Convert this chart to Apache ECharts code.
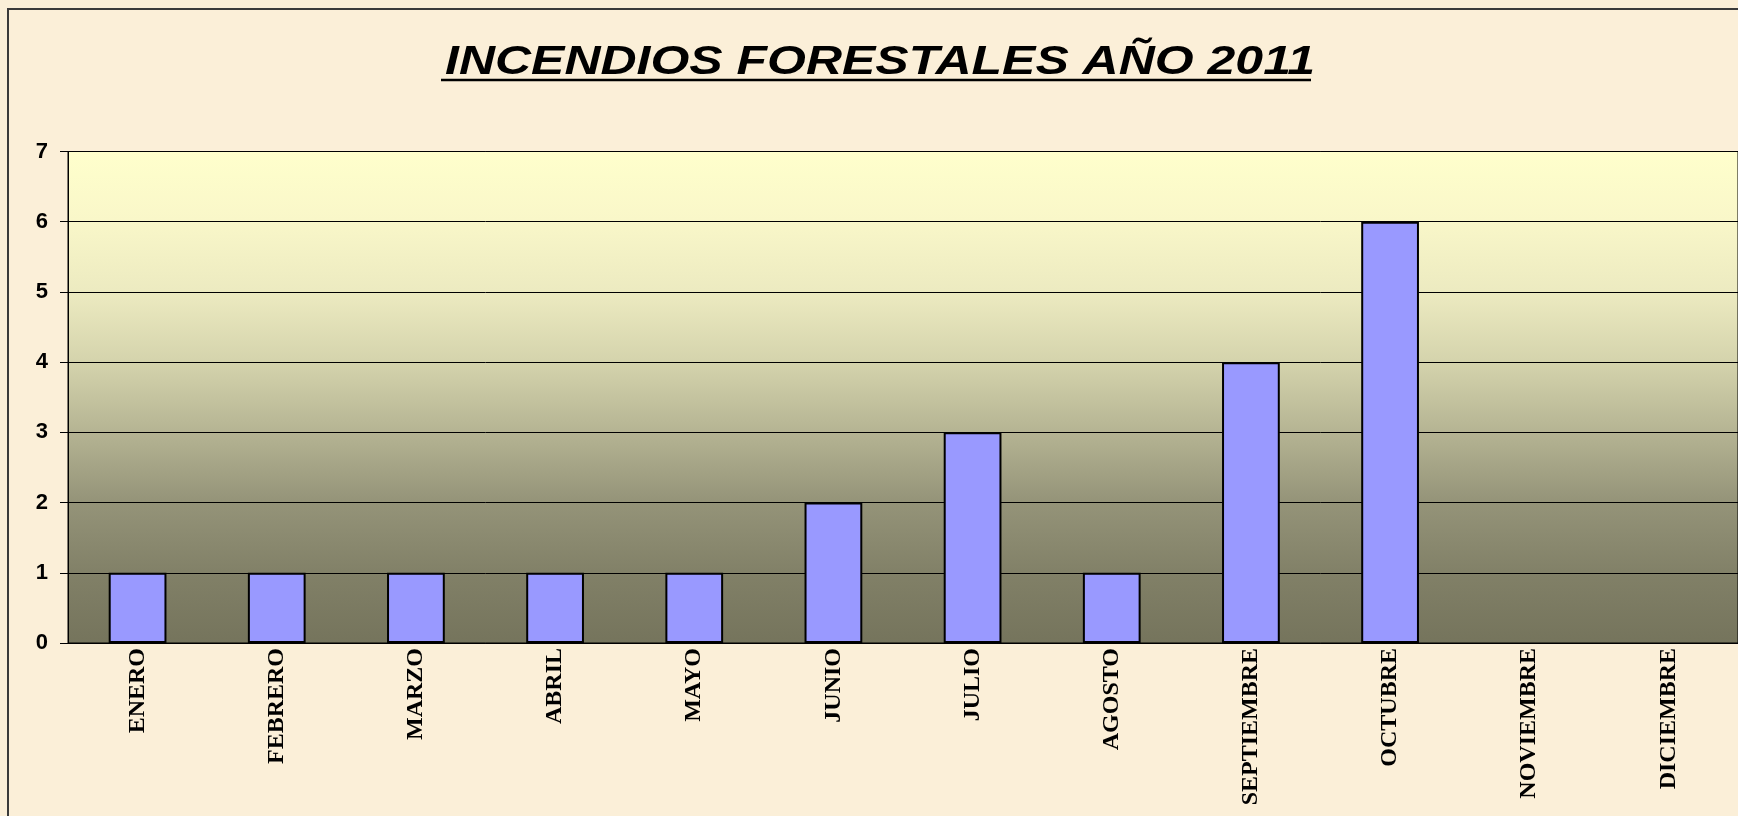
<!DOCTYPE html>
<html>
<head>
<meta charset="utf-8">
<title>Incendios forestales 2011</title>
<script src="https://cdn.jsdelivr.net/npm/echarts@6/dist/echarts.min.js"></script>
<style>
  html, body { margin: 0; padding: 0; background: #fbefd8; }
  #main { width: 1738px; height: 816px; }
</style>
</head>
<body>
<div id="main"></div>
<script>
// datos del gráfico
var titulo = 'INCENDIOS FORESTALES AÑO 2011';
var meses = ['ENERO', 'FEBRERO', 'MARZO', 'ABRIL', 'MAYO', 'JUNIO', 'JULIO',
  'AGOSTO', 'SEPTIEMBRE', 'OCTUBRE', 'NOVIEMBRE', 'DICIEMBRE'];
var incendios = [1, 1, 1, 1, 1, 2, 3, 1, 4, 6, null, null];
var yMin = 0, yMax = 7, yPaso = 1;

var chartDom = document.getElementById('main');
var myChart = echarts.init(chartDom);

// título algo estirado a lo ancho, como en el original
var tFont = 'italic bold 41px "Liberation Sans", Arial, sans-serif';
var ctx = document.createElement('canvas').getContext('2d');
ctx.font = tFont;
var tNatural = ctx.measureText(titulo).width;
var tScale = 870 / tNatural;
var tWidth = tNatural * tScale;
var tCenter = 880;

var option = {
  backgroundColor: '#fbefd8',
  animation: false,
  graphic: [
    {
      // marco
      type: 'rect',
      silent: true,
      shape: { x: 8, y: 9, width: 1800, height: 900 },
      style: { fill: 'none', stroke: '#3a3a3a', lineWidth: 2 }
    },
    {
      type: 'text',
      x: tCenter,
      y: 63,
      scaleX: tScale,
      style: {
        text: titulo,
        font: tFont,
        fill: '#000',
        align: 'center',
        verticalAlign: 'middle'
      }
    },
    {
      // subrayado
      type: 'line',
      silent: true,
      shape: { x1: tCenter - tWidth / 2 - 4, y1: 80, x2: tCenter + tWidth / 2 - 4, y2: 80 },
      style: { stroke: '#000', lineWidth: 2.5 }
    }
  ],
  grid: {
    left: 68,
    right: 0,
    top: 151.5,
    bottom: 173,
    show: true,
    borderColor: '#000',
    borderWidth: 1,
    backgroundColor: new echarts.graphic.LinearGradient(0, 0, 0, 1, [
      { offset: 0, color: '#ffffcc' },
      { offset: 0.14, color: '#f9f7c9' },
      { offset: 0.29, color: '#eceac0' },
      { offset: 0.43, color: '#d4d3ac' },
      { offset: 0.57, color: '#b5b493' },
      { offset: 0.71, color: '#959479' },
      { offset: 0.86, color: '#818067' },
      { offset: 1, color: '#75745c' }
    ])
  },
  xAxis: {
    type: 'category',
    data: meses,
    axisLine: { show: true, lineStyle: { color: '#000', width: 1 } },
    axisTick: { show: false },
    axisLabel: {
      interval: 0,
      rotate: 90,
      margin: 5,
      color: '#000',
      fontFamily: '"Liberation Serif", "Times New Roman", serif',
      fontWeight: 'bold',
      fontSize: 24
    }
  },
  yAxis: {
    type: 'value',
    min: yMin,
    max: yMax,
    interval: yPaso,
    axisLine: { show: true, lineStyle: { color: '#000', width: 1 } },
    axisTick: { show: true, inside: false, length: 8, lineStyle: { color: '#000' } },
    splitLine: { show: true, lineStyle: { color: '#000', width: 1 } },
    axisLabel: {
      margin: 20,
      color: '#000',
      fontFamily: '"Liberation Sans", Arial, sans-serif',
      fontWeight: 'bold',
      fontSize: 22
    }
  },
  series: [{
    name: 'Incendios',
    type: 'bar',
    data: incendios,
    barWidth: '41.5%',
    itemStyle: {
      color: '#9999ff',
      borderColor: '#000',
      borderWidth: 2
    }
  }]
};

myChart.setOption(option);
</script>
</body>
</html>
